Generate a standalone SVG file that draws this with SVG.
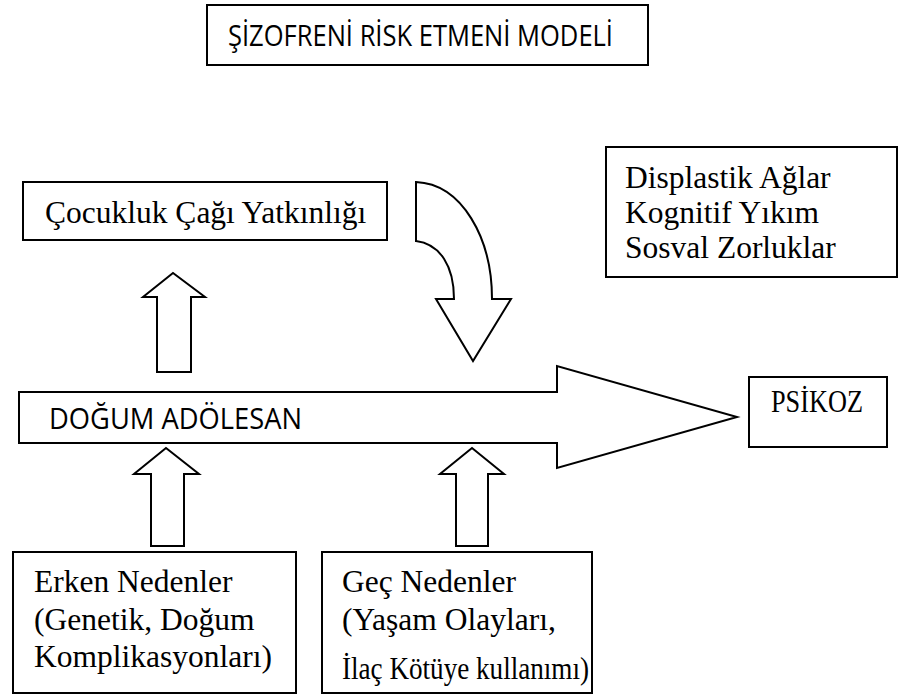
<svg xmlns="http://www.w3.org/2000/svg" width="901" height="697" viewBox="0 0 901 697">
<style>
.box{fill:#fff;stroke:#000;stroke-width:2}
.arr{fill:#fff;stroke:#000;stroke-width:2;stroke-linejoin:miter}
.serif{font-family:"Liberation Serif","Times New Roman",serif;font-size:31.5px;fill:#000}
.sans{font-family:"Open Sans","Noto Sans",sans-serif;font-size:29px;fill:#000}
</style>
<rect width="901" height="697" fill="#fff"/>
<g id="title">
<rect class="box" x="207" y="5" width="441" height="60"/>
<text class="sans" x="228" y="46" textLength="385" lengthAdjust="spacingAndGlyphs">ŞİZOFRENİ RİSK ETMENİ MODELİ</text>
</g>
<g id="connectors">
<path class="arr" d="M19,392 L557,392 L557,366 L737,417 L557,468 L557,443 L19,443 Z"/>
<path class="arr" d="M157,372 L157,297 L143,297 L173,273 L205,297 L191,297 L191,372 Z"/>
<path class="arr" d="M151,546 L151,474 L134,474 L166,448 L199,474 L184,474 L184,546 Z"/>
<path class="arr" d="M456,546 L456,474 L440,474 L472,448 L504,474 L488,474 L488,546 Z"/>
<path class="arr" d="M416,182 C462,184 492,238 492,299 L511,299 L473,361 L436,299 L454,299 C454,266 440,244 416,241 Z"/>
</g>
<g id="dogum">
<text class="sans" x="49" y="429" font-size="30" textLength="253" lengthAdjust="spacingAndGlyphs">DOĞUM ADÖLESAN</text>
</g>
<g id="cocukluk">
<rect class="box" x="23" y="182" width="364" height="58"/>
<text class="serif" x="45" y="223">Çocukluk Çağı Yatkınlığı</text>
</g>
<g id="displastik">
<rect class="box" x="606" y="147" width="291" height="130"/>
<text class="serif" x="625" y="188" font-size="32">Displastik Ağlar</text>
<text class="serif" x="625" y="223" font-size="32">Kognitif Yıkım</text>
<text class="serif" x="625" y="258" font-size="32">Sosval Zorluklar</text>
</g>
<g id="psikoz">
<rect class="box" x="749" y="377" width="138" height="70"/>
<text class="serif" x="771" y="412" font-size="25" textLength="92" lengthAdjust="spacingAndGlyphs">PSİKOZ</text>
</g>
<g id="erken">
<rect class="box" x="13" y="552" width="283" height="141"/>
<text class="serif" x="34" y="592">Erken Nedenler</text>
<text class="serif" x="34" y="630">(Genetik, Doğum</text>
<text class="serif" x="34" y="667">Komplikasyonları)</text>
</g>
<g id="gec">
<rect class="box" x="322" y="552" width="270" height="141"/>
<text class="serif" x="342" y="592">Geç Nedenler</text>
<text class="serif" x="342" y="630">(Yaşam Olayları,</text>
<text class="serif" x="342" y="679" textLength="247" lengthAdjust="spacingAndGlyphs">İlaç Kötüye kullanımı)</text>
</g>
</svg>
